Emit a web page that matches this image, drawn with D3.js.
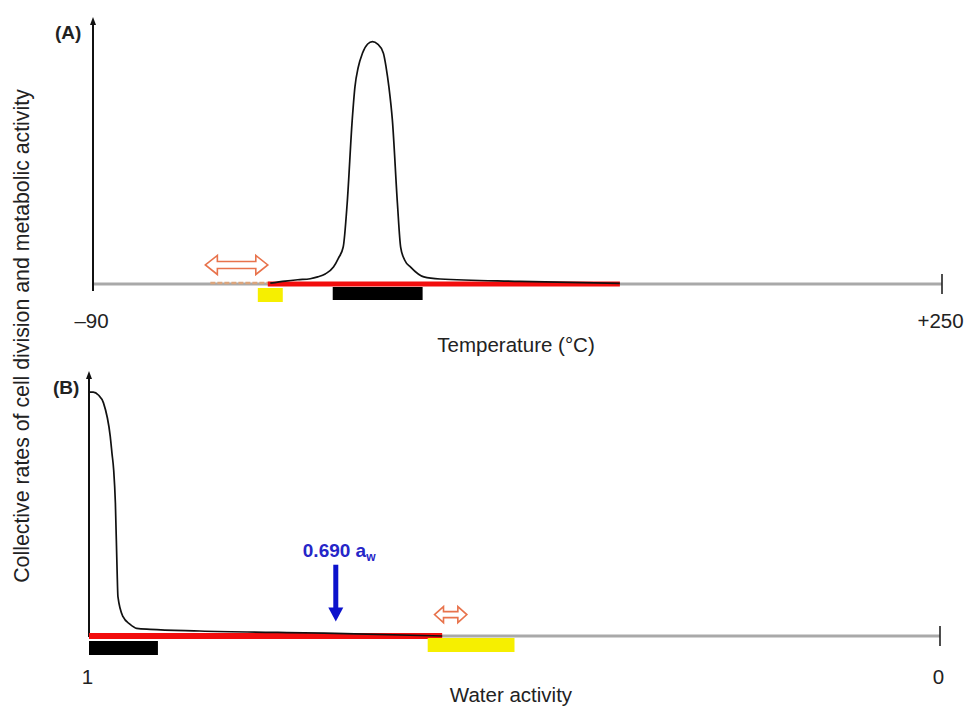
<!DOCTYPE html>
<html>
<head>
<meta charset="utf-8">
<script src="https://cdn.jsdelivr.net/npm/d3@7"></script>
<style>
  body { margin: 0; background: #fff; }
  svg { display: block; font-family: "Liberation Sans", Arial, sans-serif; }
</style>
</head>
<body>
<div id="chart"></div>
<script>
  'use strict';

  // ---- panel (A) temperature ----
  var tempDomain = [-90, 250];
  var tempTickValues = [-90, 250];
  var tempTickLabels = ["\u201390", "+250"];
  // [temperature, relative activity]
  var tempActivity = [
    [-19, 0.3], [-13, 1.1], [-8, 1.6], [-3, 2.0], [0, 2.7], [3, 3.8],
    [6.3, 6.4], [8.3, 9.8], [10.2, 14], [11.8, 30.7], [13.8, 62],
    [14.9, 74.7], [16.2, 82], [17.9, 87.4], [20, 90.9], [21.9, 91.8],
    [24, 90.9], [26.3, 87.4], [27.4, 82], [28.5, 74.7], [29.9, 62],
    [31.9, 30.7], [33.2, 14], [34.8, 9.1], [37.2, 6.4], [42.5, 2.7],
    [49, 1.9], [81, 1.0], [121, 0.2]
  ];
  var tempRedRange = [-20, 121];
  var tempBlackRange = [6, 42];
  var tempYellowRange = [-24, -14];
  var tempDashRange = [-43, -19];
  var tempArrowRange = [-45, -20];

  // ---- panel (B) water activity ----
  var waterDomain = [1, 0];
  var waterTickValues = [1, 0];
  var waterTickLabels = ["1", "0"];
  // [water activity, relative activity]
  var waterActivity = [
    [1.0, 92.4], [0.995, 92.4], [0.989, 91.3], [0.983, 88.3], [0.975, 75.5],
    [0.973, 69.2], [0.971, 62.9], [0.969, 50.4], [0.967, 25], [0.966, 14.9],
    [0.960, 7.3], [0.952, 4.5], [0.944, 2.9], [0.928, 2.5], [0.870, 1.9],
    [0.711, 1.0], [0.585, 0]
  ];
  var waterRedRange = [1, 0.585];
  var waterBlackRange = [1, 0.919];
  var waterYellowRange = [0.602, 0.5];
  var waterArrowRange = [0.594, 0.556];
  var waterMarker = 0.71;
  var waterMarkerLabel = "0.690";

  var activityDomain = [0, 100];

  var width = 968, height = 709;

  var svg = d3.select("#chart").append("svg")
      .attr("width", width)
      .attr("height", height);

  svg.append("rect")
      .attr("width", width)
      .attr("height", height)
      .attr("fill", "#fff");

  var line = function (x, y) {
    return d3.line()
        .x(function (d) { return x(d[0]); })
        .y(function (d) { return y(d[1]); })
        .curve(d3.curveMonotoneX);
  };

  // hollow double headed arrow
  function doubleArrow(g, x0, x1, cy, hl, hh, sh) {
    var p = d3.path();
    p.moveTo(x0, cy);
    p.lineTo(x0 + hl, cy - hh);
    p.lineTo(x0 + hl, cy - sh);
    p.lineTo(x1 - hl, cy - sh);
    p.lineTo(x1 - hl, cy - hh);
    p.lineTo(x1, cy);
    p.lineTo(x1 - hl, cy + hh);
    p.lineTo(x1 - hl, cy + sh);
    p.lineTo(x0 + hl, cy + sh);
    p.lineTo(x0 + hl, cy + hh);
    p.closePath();
    g.append("path")
        .attr("d", p.toString())
        .attr("fill", "#fff")
        .attr("stroke", "#e8734c")
        .attr("stroke-width", 1.6);
  }

  function bar(g, x, range, top, h, color) {
    var a = x(range[0]), b = x(range[1]);
    g.append("rect")
        .attr("x", Math.min(a, b))
        .attr("y", top)
        .attr("width", Math.abs(b - a))
        .attr("height", h)
        .attr("fill", color);
  }

  function baseAxis(g, x, base, tickValues, tickLabels, pad, yTop, yBottom) {
    var r = x.range();
    g.append("line")
        .attr("x1", r[0]).attr("x2", r[1])
        .attr("y1", base).attr("y2", base)
        .attr("stroke", "#a9a9a9")
        .attr("stroke-width", 3);

    // end tick on the right
    g.append("line")
        .attr("x1", r[1]).attr("x2", r[1])
        .attr("y1", base - 10).attr("y2", base + 10)
        .attr("stroke", "#222")
        .attr("stroke-width", 1.6);

    var ax = g.append("g")
        .attr("transform", "translate(0," + base + ")")
        .call(d3.axisBottom(x)
            .tickValues(tickValues)
            .tickFormat(function (d, i) { return tickLabels[i]; })
            .tickSize(0)
            .tickPadding(pad));
    ax.select(".domain").remove();
    ax.selectAll("text")
        .attr("font-size", 20.5)
        .attr("font-family", "Liberation Sans, Arial, sans-serif")
        .attr("fill", "#222")
        .attr("dx", -2);

    // vertical axis with arrow head
    g.append("line")
        .attr("x1", r[0]).attr("x2", r[0])
        .attr("y1", yBottom).attr("y2", yTop + 6)
        .attr("stroke", "#111")
        .attr("stroke-width", 2);
    g.append("path")
        .attr("d", "M" + (r[0] - 3) + "," + (yTop + 8) + "L" + r[0] + "," + yTop +
                   "L" + (r[0] + 3) + "," + (yTop + 8) + "Z")
        .attr("fill", "#111");
  }

////////////////////////////////////////////////////////////////
// Panel A
////////////////////////////////////////////////////////////////

  var xA = d3.scaleLinear().domain(tempDomain).range([93, 942]);
  var yA = d3.scaleLinear().domain(activityDomain).range([284, 20]);
  var gA = svg.append("g");

  baseAxis(gA, xA, yA(0), tempTickValues, tempTickLabels, 29.5, 17, yA(0) + 7);

  gA.append("line")
      .attr("x1", xA(tempDashRange[0])).attr("x2", xA(tempDashRange[1]))
      .attr("y1", yA(0) - 1).attr("y2", yA(0) - 1)
      .attr("stroke", "#dba57c")
      .attr("stroke-width", 2.5)
      .attr("stroke-dasharray", "5,2");

  bar(gA, xA, tempRedRange, yA(0) - 2.5, 5, "#f20d0d");

  gA.append("path")
      .datum(tempActivity)
      .attr("d", line(xA, yA))
      .attr("fill", "none")
      .attr("stroke", "#111")
      .attr("stroke-width", 1.7);

  bar(gA, xA, tempBlackRange, 287, 13, "#000");
  bar(gA, xA, tempYellowRange, 288, 14, "#f6ef00");

  doubleArrow(gA, xA(tempArrowRange[0]), xA(tempArrowRange[1]), yA(7.2), 12, 9.5, 3.5);

  gA.append("text")
      .attr("x", 55).attr("y", 39)
      .attr("font-size", 19)
      .attr("font-weight", "bold")
      .attr("fill", "#222")
      .text("(A)");

  gA.append("text")
      .attr("x", 516).attr("y", 352)
      .attr("text-anchor", "middle")
      .attr("font-size", 20.5)
      .attr("fill", "#222")
      .text("Temperature (\u00b0C)");

////////////////////////////////////////////////////////////////
// Panel B
////////////////////////////////////////////////////////////////

  var xB = d3.scaleLinear().domain(waterDomain).range([89, 940]);
  var yB = d3.scaleLinear().domain(activityDomain).range([636, 372]);
  var gB = svg.append("g");

  baseAxis(gB, xB, yB(0), waterTickValues, waterTickLabels, 33, 371, yB(0) + 1);

  bar(gB, xB, waterRedRange, yB(0) - 3, 6, "#f20d0d");

  gB.append("path")
      .datum(waterActivity)
      .attr("d", line(xB, yB))
      .attr("fill", "none")
      .attr("stroke", "#111")
      .attr("stroke-width", 1.7);

  bar(gB, xB, waterBlackRange, 641, 14, "#000");
  bar(gB, xB, waterYellowRange, 638, 14, "#f6ef00");

  doubleArrow(gB, xB(waterArrowRange[0]), xB(waterArrowRange[1]), yB(8.1), 9, 8, 3);

  // blue marker arrow
  var mx = xB(waterMarker);
  gB.append("rect")
      .attr("x", mx - 2.5).attr("y", yB(27))
      .attr("width", 5).attr("height", yB(5.5) - yB(27) - 12)
      .attr("fill", "#0c12cc");
  gB.append("path")
      .attr("d", "M" + (mx - 7.5) + "," + (yB(5.5) - 14) + "L" + mx + "," + yB(5.5) +
                 "L" + (mx + 7.5) + "," + (yB(5.5) - 14) + "Z")
      .attr("fill", "#0c12cc");

  var lbl = gB.append("text")
      .attr("x", mx - 33).attr("y", 557)
      .attr("font-size", 19)
      .attr("font-weight", "bold")
      .attr("fill", "#2626c8");
  lbl.append("tspan").text(waterMarkerLabel + " a");
  lbl.append("tspan")
      .attr("font-size", 12)
      .attr("dy", 4)
      .text("w");

  gB.append("text")
      .attr("x", 53).attr("y", 394)
      .attr("font-size", 19)
      .attr("font-weight", "bold")
      .attr("fill", "#222")
      .text("(B)");

  gB.append("text")
      .attr("x", 511).attr("y", 702)
      .attr("text-anchor", "middle")
      .attr("font-size", 20.5)
      .attr("fill", "#222")
      .text("Water activity");

  // shared y label
  svg.append("text")
      .attr("transform", "translate(29,336) rotate(-90)")
      .attr("text-anchor", "middle")
      .attr("font-size", 21.3)
      .attr("fill", "#222")
      .text("Collective rates of cell division and metabolic activity");
</script>
</body>
</html>
